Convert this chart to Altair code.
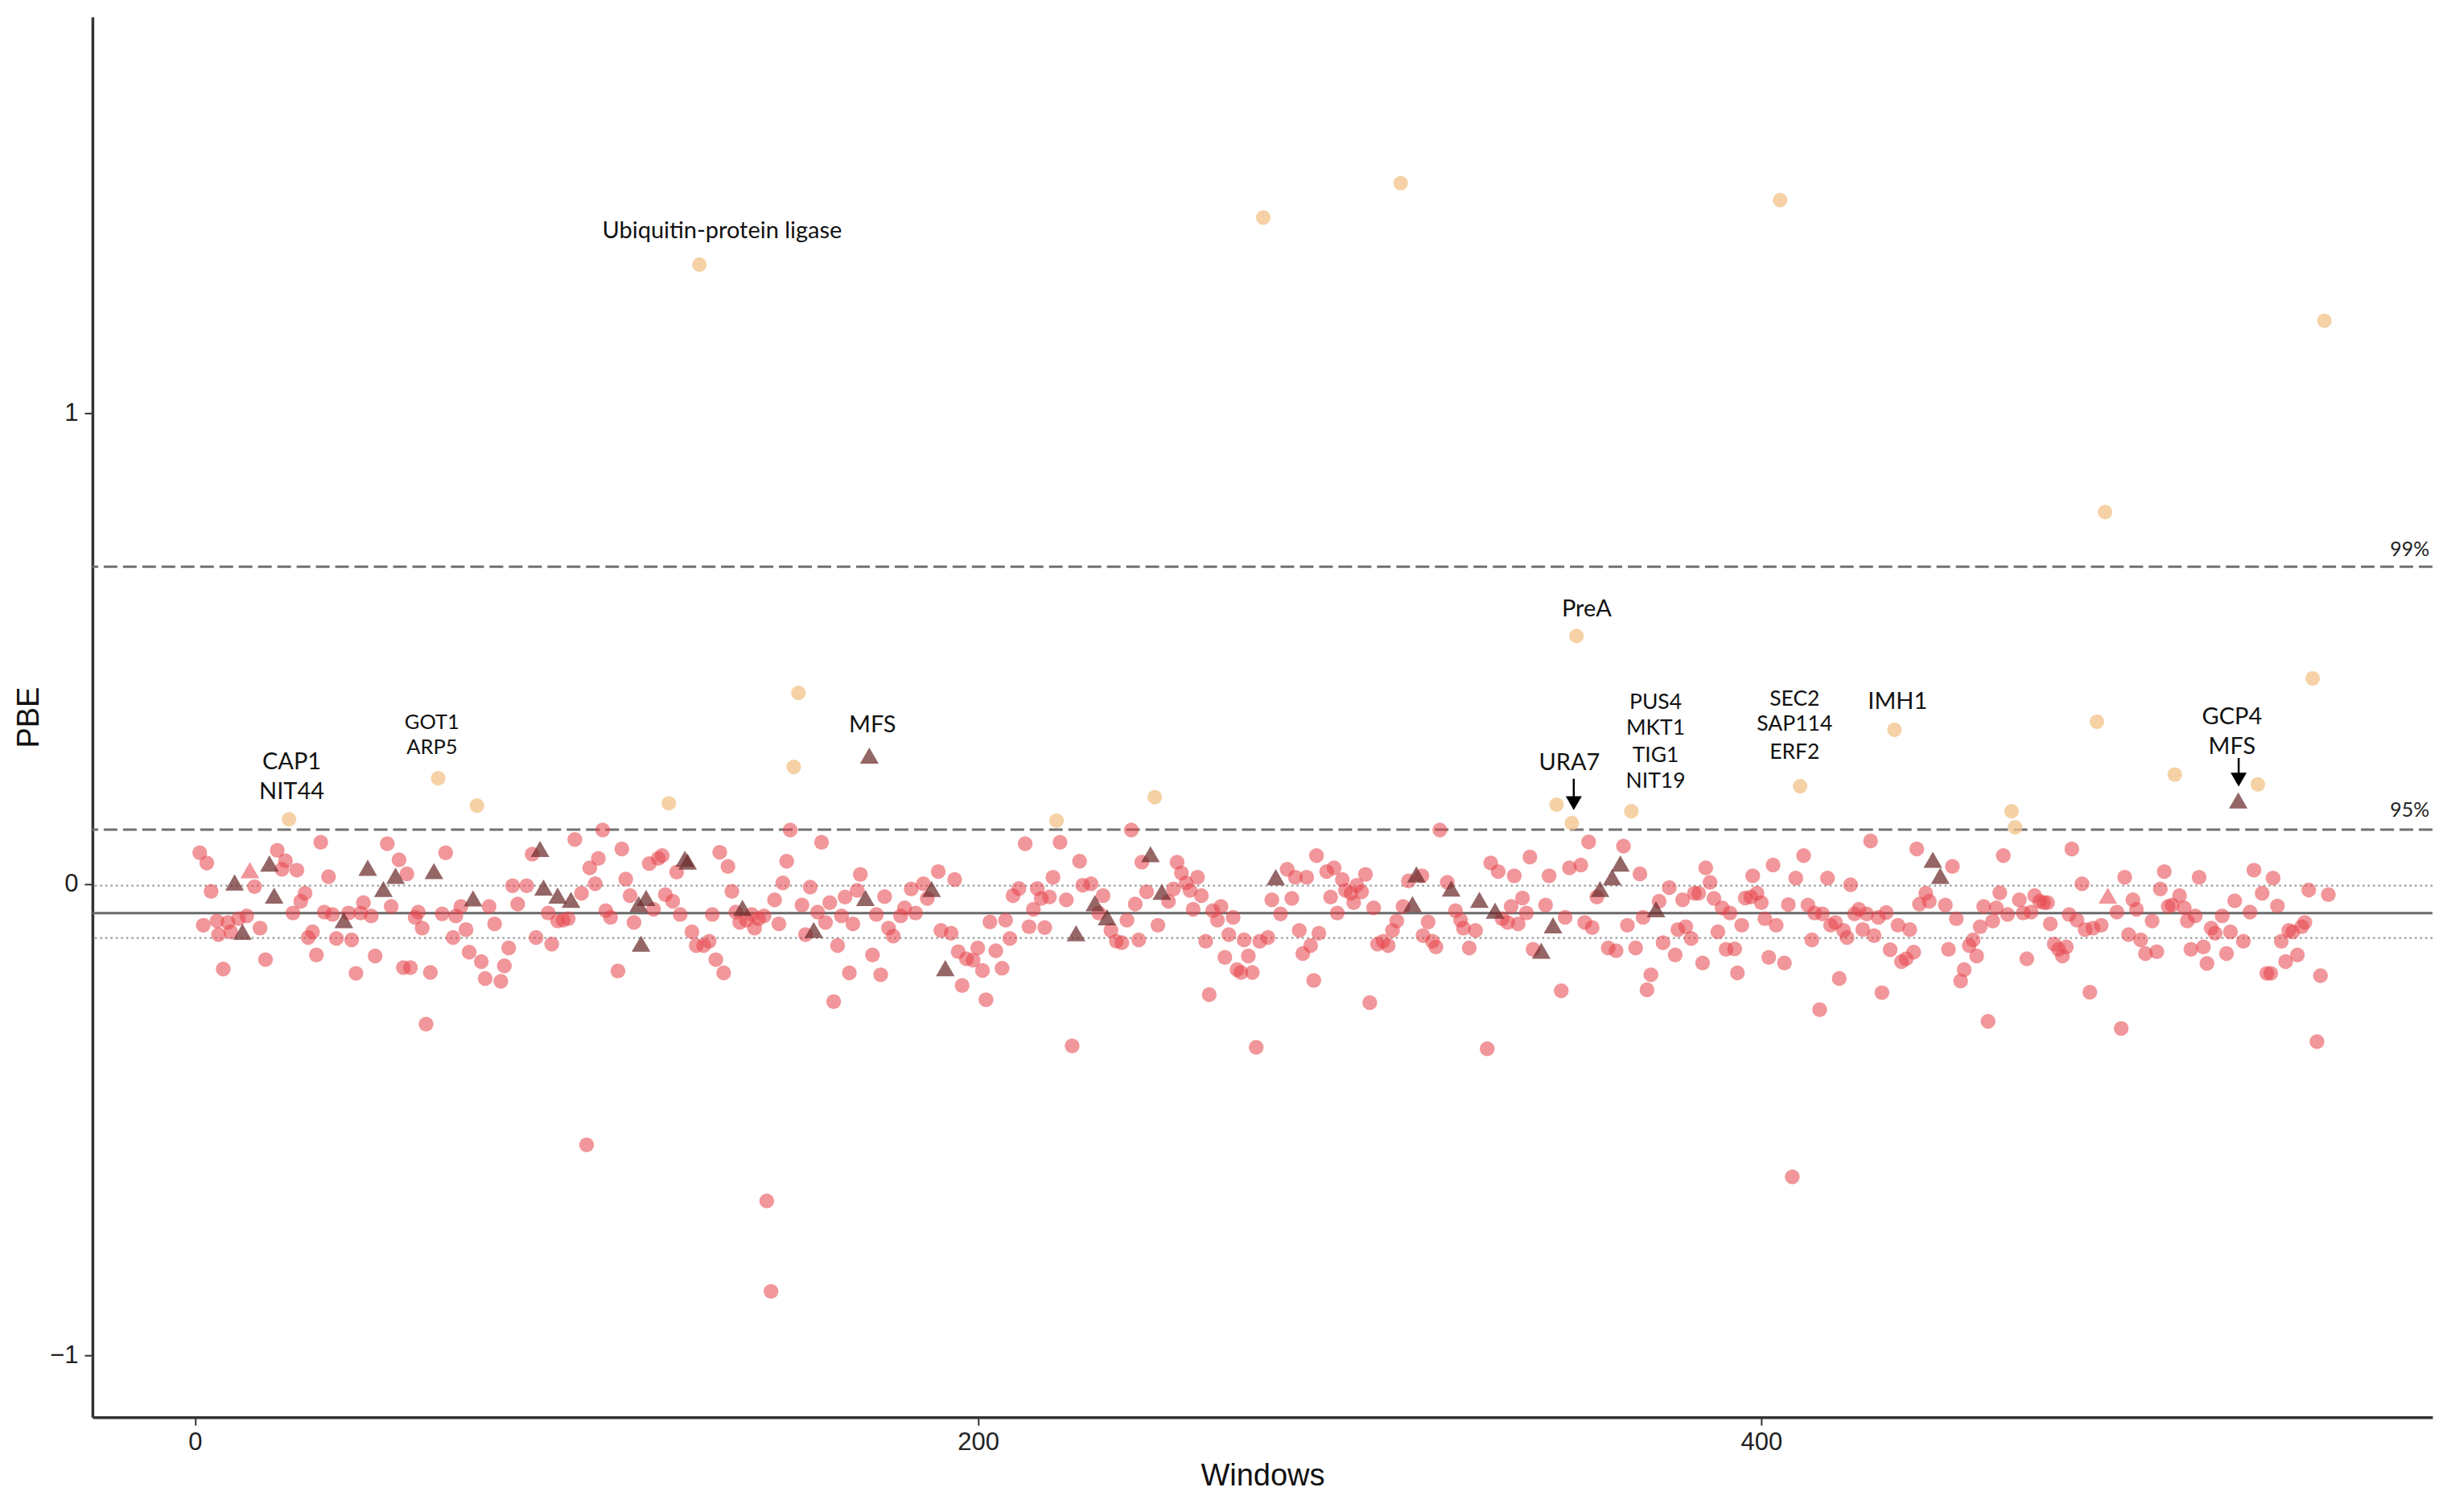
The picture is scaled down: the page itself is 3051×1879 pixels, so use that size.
import altair as alt
import pandas as pd

# ---------------- data ----------------
red_w = [1.2, 3.0, 4.1, 2.1, 5.6, 6.0, 7.2, 8.4, 9.1, 11.1, 13.2, 15.2, 16.6, 18.0, 21.0, 23.1, 22.2, 26.0, 25.0, 27.0,
         28.1, 28.9, 30.0, 31.0, 32.1, 33.0, 34.1, 35.1, 36.1, 39.2, 40.0, 41.1, 42.3, 43.0, 45.0, 46.0, 49.1, 50.1, 52.1, 53.2,
         54.1, 55.0, 56.2, 57.0, 58.0, 59.0, 60.1, 63.1, 64.0, 65.9, 66.6, 67.9, 69.2, 70.0, 73.1, 74.1, 75.1, 76.5, 78.1, 79.0,
         80.1, 81.1, 82.4, 84.7, 86.1, 87.1, 90.2, 91.1, 92.6,
         94.0, 95.3, 97.0, 98.7, 100.8, 102.2, 103.0, 104.1, 104.9, 106.1, 108.0, 109.0, 110.0, 111.1, 112.1, 116.0, 117.1, 118.3,
         119.3, 120.1, 122.0, 123.0, 123.9, 126.9, 128.0, 129.9, 131.3, 132.1, 133.0, 134.0, 135.0, 136.1, 137.1, 138.1, 139.1,
         140.8, 142.2, 142.9, 143.9, 145.3, 148.0, 149.1, 150.1, 151.1, 152.0, 155.0, 155.9, 157.1, 159.0, 160.0, 161.0, 162.1,
         163.1, 164.1, 165.1, 166.0, 167.1, 168.0, 169.1, 169.9, 173.0, 174.0, 175.1, 176.1, 177.1, 178.3, 180.2, 181.2, 182.9,
         184.0, 186.0, 187.0, 189.8, 190.5, 100.0, 146.0, 147.1,
         193.1, 194.0, 194.9, 195.9, 197.0, 198.7, 199.9, 201.1, 202.0, 203.0, 204.5, 206.1, 207.0, 208.1, 208.9, 210.4, 212.0,
         213.0, 214.1, 215.1, 216.1, 217.0, 218.2, 219.1, 220.9, 222.5, 224.0, 225.9, 226.7, 228.8, 230.8, 231.9, 233.9, 235.3,
         236.7, 238.0, 239.1, 240.1, 241.0, 241.8, 243.0, 245.9, 248.6, 249.9, 250.8, 251.9, 253.1, 254.1, 254.9, 256.0, 257.0,
         258.1, 259.0, 259.9, 261.1, 262.0, 263.0, 264.0, 265.1, 266.1, 267.1, 267.9, 269.0, 270.0, 271.0, 271.9, 274.0, 275.0,
         277.2, 278.9, 280.1, 281.0, 282.0, 282.9, 283.9, 284.9, 285.7, 286.4, 287.0,
         289.0, 290.0, 290.9, 291.7, 293.0, 293.8, 295.2, 295.9, 296.7, 297.9, 298.9, 300.0, 301.0, 302.0, 303.4, 304.7, 305.8,
         306.9, 308.5, 309.9, 313.3, 313.6, 314.9, 316.0, 316.9, 317.9, 319.8, 321.9, 323.2, 323.9, 325.4, 327.0, 330.0, 330.9,
         332.8, 333.8, 335.2, 336.1, 336.9, 337.9, 339.0, 340.0, 340.9, 341.7, 344.9, 345.8, 348.9, 349.9, 351.0, 353.9, 354.9,
         355.9, 356.8, 358.0, 360.9, 362.9, 364.8, 365.8, 367.9, 369.0, 369.8, 370.8, 371.8, 373.9, 374.9, 376.5, 378.0, 378.7,
         379.9, 380.7, 382.1, 382.9,
         384.0, 385.0, 385.8, 386.9, 387.9, 388.9, 390.0, 391.0, 392.0, 393.2, 393.9, 395.0, 395.9, 397.8, 397.3, 398.9, 400.0,
         400.9, 401.9, 403.0, 403.8, 405.9, 406.9, 408.8, 410.8, 411.9, 412.9, 413.6, 414.9, 415.6, 416.9, 417.7, 418.9, 419.9,
         421.0, 421.9, 422.8, 423.8, 424.9, 425.9, 426.9, 427.9, 428.8, 429.9, 430.8, 431.9, 432.9, 434.9, 435.8, 437.0, 437.9,
         438.9, 439.7, 440.4, 442.0, 442.9, 447.0, 447.8, 448.8, 449.8, 450.9, 451.8, 453.1, 454.1, 455.0, 455.9, 456.8, 457.9,
         459.1, 460.0, 460.9, 461.8, 462.9, 465.9, 466.9, 467.8, 468.9, 469.8, 471.1, 472.1, 473.1, 473.8, 474.8, 475.9, 476.9,
         477.9, 478.6, 479.3, 407.9,
         481.9, 480.6, 482.7, 483.9, 484.7, 486.8, 490.8, 491.9, 492.8, 493.8, 494.9, 495.8, 496.9, 498.1, 499.8, 501.0, 501.9,
         502.9, 503.9, 504.9, 506.8, 508.0, 508.8, 509.7, 510.8, 511.8, 512.9, 513.8, 514.9, 515.9, 517.7, 518.8, 519.8, 520.9,
         523.1, 524.8, 525.8, 527.9, 529.1, 530.1, 530.7, 531.8, 532.8, 533.9, 534.7, 535.7, 536.9, 538.0, 538.8, 539.8, 541.9,
         542.8, 544.8]
red_v = [0.067, 0.045, -0.015, -0.087, -0.078, -0.107, -0.18, -0.081, -0.101, -0.073, -0.067, -0.005, -0.093, -0.16, 0.072,
         0.05, 0.032, 0.03, -0.061, -0.036, -0.019, -0.113, -0.101, -0.15, 0.089, -0.059, 0.016, -0.064, -0.115, -0.061, -0.118,
         -0.189, -0.061, -0.039, -0.067, -0.152, 0.086, -0.047, 0.052, -0.177, 0.022, -0.177, -0.07, -0.059, -0.093, -0.297,
         -0.187, -0.063, 0.067, -0.113, -0.067, -0.047, -0.096, -0.144, -0.164, -0.2, -0.047, -0.084, -0.206, -0.173, -0.135,
         -0.003, -0.042, -0.003, 0.064, -0.113, -0.061, -0.127, -0.078,
         -0.076, -0.073, 0.095, -0.019, 0.035, 0.001, 0.055, 0.115, -0.056, -0.07, -0.184, 0.075, 0.011, -0.024, -0.081, 0.044,
         -0.053, 0.055, 0.061, -0.022, -0.036, 0.026, -0.064, -0.101, -0.13, -0.13, -0.121, -0.064, -0.16, 0.068, -0.188, 0.038,
         -0.015, -0.059, -0.081, -0.076, -0.064, -0.093, -0.073, -0.067, -0.033, -0.084, 0.003, 0.049, 0.115, -0.044, -0.107,
         -0.006, -0.059, 0.089, -0.081, -0.039, -0.249, -0.13, -0.067, -0.027, -0.188, -0.084, -0.013, 0.021, -0.15, -0.064,
         -0.192, -0.026, -0.093, -0.11, -0.067, -0.05, -0.01, -0.061, 0.001, -0.03, 0.027, -0.098, -0.553, -0.672, -0.864,
         -0.104, 0.01, -0.143, -0.215, -0.158, -0.161, -0.135, -0.183, -0.245, -0.08, -0.141, -0.178, -0.076, -0.115, -0.024,
         -0.009, 0.086, -0.09, -0.053, -0.009, -0.03, -0.092, -0.027, 0.015, 0.089, -0.033, -0.343, 0.049, -0.002, 0.001, -0.061,
         -0.024, -0.098, -0.121, -0.124, -0.076, 0.115, -0.042, -0.118, 0.047, -0.016, -0.087, -0.036, -0.01, 0.047, 0.024,
         0.003, -0.013, -0.053, 0.015, -0.024, -0.121, -0.234, -0.056, -0.076, -0.047, -0.155, -0.107, -0.07, -0.181, -0.187,
         -0.118, -0.152, -0.187, -0.346, -0.121, -0.113, -0.033, -0.063, 0.032, -0.03, 0.015, -0.098, -0.147, 0.015, -0.13,
         -0.204, 0.061, -0.104,
         0.027, -0.027, 0.035, -0.061, 0.01, -0.013, -0.019, -0.039, -0.002, -0.016, 0.021, -0.251, -0.05, -0.127, -0.121, -0.13,
         -0.098, -0.078, -0.047, 0.007, 0.018, -0.109, -0.08, -0.121, -0.133, 0.115, 0.004, -0.056, -0.076, -0.093, -0.135,
         -0.098, -0.349, 0.045, 0.027, -0.073, -0.081, -0.047, 0.018, -0.084, -0.029, -0.061, 0.058, -0.138, -0.044, 0.018,
         -0.226, -0.07, 0.035, 0.041, -0.081, 0.09, -0.092, -0.027, -0.135, -0.141, 0.081, -0.087, -0.135, 0.022, -0.07, -0.224,
         -0.192, -0.036, -0.124, -0.007, -0.15, -0.096, -0.033, -0.09, -0.115, -0.019,
         -0.019, -0.167, 0.035, 0.004, -0.03, -0.101, -0.05, -0.138, -0.061, -0.137, -0.188, -0.087, -0.029, 0.018, -0.027,
         -0.019, -0.039, -0.073, -0.155, 0.041, -0.087, -0.167, -0.043, 0.013, 0.061, -0.044, -0.118, -0.061, -0.266, -0.063,
         0.013, -0.087, -0.081, -0.2, -0.098, -0.113, -0.001, -0.063, -0.053, -0.096, -0.063, 0.092, -0.109, -0.07, -0.23,
         -0.06, -0.139, -0.087, -0.164, -0.158, -0.096, -0.144, 0.075, -0.042, -0.019, -0.036, -0.044, -0.138, 0.038, -0.073,
         -0.205, -0.181, -0.13, -0.118, -0.152, -0.09, -0.047, -0.291, -0.078, -0.05, -0.018, 0.061, -0.064, -0.033, -0.061,
         -0.158, -0.059, -0.024, -0.036, -0.039, -0.039, -0.084, -0.127, -0.138, -0.152, -0.133, -0.064, 0.075, -0.621,
         0.001, -0.076, -0.096, -0.229, -0.093, -0.087, -0.059, -0.306, 0.015, -0.107, -0.033, -0.053, -0.118, -0.147, -0.078,
         -0.143, -0.01, 0.027, -0.047, -0.044, -0.024, -0.05, -0.078, -0.138, -0.067, 0.015, -0.133, -0.168, -0.093, -0.104,
         -0.067, -0.147, -0.101, -0.035, -0.121, -0.059, 0.03, -0.019, -0.189, -0.189, 0.013, -0.046, -0.121, -0.164, -0.098,
         -0.101, -0.15, -0.09, -0.081, -0.012, -0.334, -0.194, -0.022]

tri_w = [10.1, 12.1, 19.0, 20.2, 38.0, 44.1, 48.1, 51.2, 61.0, 71.0, 88.1, 89.0, 92.6,
         96.0, 113.3, 113.9, 115.2, 125.1, 125.8, 139.8, 158.0, 171.2, 188.1, 191.6, 172.2,
         225.0, 229.8, 232.9, 244.0, 246.9, 276.0,
         310.9, 311.9, 320.8, 328.0, 332.0, 343.8, 346.8, 358.8, 361.9, 364.0, 373.1,
         443.8, 445.7, 521.8]
tri_v = [0.004, -0.101, 0.044, -0.024, -0.076, 0.035, -0.01, 0.018, 0.028, -0.03, 0.075, -0.007, -0.024,
         -0.033, -0.042, -0.126, -0.029, 0.054, 0.048, -0.05, -0.097, -0.029, -0.01, -0.178, 0.273,
         -0.104, -0.04, -0.07, 0.064, -0.016, 0.015,
         -0.042, 0.021, -0.009, -0.033, -0.056, -0.141, -0.087, -0.01, 0.015, 0.044, -0.053,
         0.052, 0.018, 0.178]

pink_tri_w = [14.0, 488.5]
pink_tri_v = [0.030, -0.024]

orange_w = [24.0, 62.1, 72.0, 121.0, 128.8, 152.9, 154.1, 220.0, 245.1, 272.8, 307.9, 347.7, 351.6, 352.8, 366.8,
            404.8, 409.9, 434.0, 463.9, 464.8, 485.7, 487.8, 505.6, 526.8, 540.8, 543.8]
orange_v = [0.138, 0.225, 0.167, 0.172, 1.315, 0.249, 0.406, 0.135, 0.185, 1.415, 1.488, 0.169, 0.130, 0.527, 0.155,
            1.452, 0.208, 0.328, 0.155, 0.121, 0.345, 0.79, 0.233, 0.212, 0.437, 1.196]

# reference lines
dash_y = [0.674, 0.116]          # 99% and 95% thresholds
dot_y = [-0.003, -0.114]         # band around the mean
mean_y = [-0.061]

# annotations
lab_text = ["Ubiquitin-protein ligase", "CAP1", "NIT44", "GOT1", "ARP5", "MFS", "PreA", "URA7",
            "PUS4", "MKT1", "TIG1", "NIT19", "SEC2", "SAP114", "ERF2", "IMH1", "GCP4", "MFS"]
lab_x = [134.6, 24.7, 24.7, 60.5, 60.5, 173.0, 355.4, 351.0,
         373.0, 373.0, 373.0, 373.0, 408.5, 408.5, 408.5, 434.8, 520.2, 520.2]
lab_y = [1.387, 0.259, 0.196, 0.343, 0.290, 0.338, 0.584, 0.258,
         0.386, 0.331, 0.273, 0.218, 0.392, 0.340, 0.280, 0.387, 0.355, 0.292]
lab_size = [29, 29, 29, 25.5, 25.5, 29, 29, 29, 26.5, 26.5, 26.5, 26.5, 26.5, 26.5, 26.5, 29, 29, 29]

pct_text = ["99%", "95%"]
pct_x = [565.6, 565.6]
pct_y = [0.710, 0.157]

arrow_x = [352.1, 521.9]
arrow_y1 = [0.224, 0.268]
arrow_y2 = [0.172, 0.222]

X_DOMAIN = [-26.2, 571.4]
Y_DOMAIN = [-1.131, 1.841]

# ---------------- chart ----------------
xs = alt.Scale(domain=X_DOMAIN, nice=False, zero=False)
ys = alt.Scale(domain=Y_DOMAIN, nice=False, zero=False)

LABEL_FONT = "Liberation Sans"
ANN_FONT = "Lato"

x_axis = alt.Axis(values=[0, 200, 400], title="Windows", grid=False,
                  domainColor="#333333", domainWidth=3.5, tickColor="#333333", tickWidth=2, tickSize=10,
                  labelFont=LABEL_FONT, labelFontSize=31, labelColor="#222222", labelPadding=6,
                  titleFont=LABEL_FONT, titleFontSize=38, titleFontWeight="normal", titleColor="#111111",
                  titlePadding=8)
y_axis = alt.Axis(values=[-1, 0, 1], title="PBE", grid=False,
                  domainColor="#333333", domainWidth=3.5, tickColor="#333333", tickWidth=2, tickSize=10,
                  labelFont=LABEL_FONT, labelFontSize=31, labelColor="#222222", labelPadding=8,
                  titleFont=LABEL_FONT, titleFontSize=38, titleFontWeight="normal", titleColor="#111111",
                  titlePadding=6)


def X(field):
    return alt.X(field, type="quantitative", scale=xs, axis=x_axis)


def Y(field):
    return alt.Y(field, type="quantitative", scale=ys, axis=y_axis)


red_df = pd.DataFrame({"w": red_w, "v": red_v})
tri_df = pd.DataFrame({"w": tri_w, "v": tri_v})
pink_df = pd.DataFrame({"w": pink_tri_w, "v": pink_tri_v})
orange_df = pd.DataFrame({"w": orange_w, "v": orange_v})

dash_layer = alt.Chart(pd.DataFrame({"v": dash_y})).mark_rule(
    color="#707070", strokeWidth=3, strokeDash=[17, 7]
).encode(y=Y("v"))

dot_layer = alt.Chart(pd.DataFrame({"v": dot_y})).mark_rule(
    color="#9a9a9a", strokeWidth=2.2, strokeDash=[2.5, 4]
).encode(y=Y("v"))

mean_layer = alt.Chart(pd.DataFrame({"v": mean_y})).mark_rule(
    color="#6a6a6a", strokeWidth=3
).encode(y=Y("v"))


def pts(df, shape, color, size, opacity):
    return alt.Chart(df).mark_point(shape=shape, filled=True, color=color, size=size,
                                    opacity=opacity, strokeWidth=0).encode(
        x=X("w"), y=Y("v"),
    )


red_layer = pts(red_df, "circle", "#E7474D", 340, 0.57)
pink_layer = pts(pink_df, "triangle-up", "#E7474D", 540, 0.57)
tri_layer = pts(tri_df, "triangle-up", "#6B2B2B", 540, 0.72)
orange_layer = pts(orange_df, "circle", "#F2C48C", 330, 0.78)

arrow_df = pd.DataFrame({"w": arrow_x, "v": arrow_y1, "v2": arrow_y2})
arrow_shaft = alt.Chart(arrow_df).mark_rule(color="black", strokeWidth=2.5).encode(
    x=X("w"), y=Y("v"), y2="v2:Q",
)
arrow_head = alt.Chart(arrow_df).mark_point(shape="triangle-down", filled=True, color="black",
                                            size=400, opacity=1, strokeWidth=0).encode(
    x=X("w"), y=Y("v2"),
)

lab_df = pd.DataFrame({"w": lab_x, "v": lab_y, "t": lab_text, "fs": lab_size})
labels = alt.Chart(lab_df).mark_text(font=ANN_FONT, color="#111111", align="center",
                                     baseline="middle").encode(
    x=X("w"), y=Y("v"),
    text="t:N",
    size=alt.Size("fs:Q", scale=None, legend=None),
)

pct_df = pd.DataFrame({"w": pct_x, "v": pct_y, "t": pct_text})
pct_labels = alt.Chart(pct_df).mark_text(font=ANN_FONT, fontSize=25, color="#222222",
                                         align="center", baseline="middle").encode(
    x=X("w"), y=Y("v"), text="t:N",
)

chart = alt.layer(
    dash_layer, dot_layer, mean_layer,
    red_layer, pink_layer, tri_layer, orange_layer,
    arrow_shaft, arrow_head, labels, pct_labels,
).properties(
    width=2911, height=1742,
    autosize=alt.AutoSizeParams(type="none"),
    padding={"left": 107, "top": 12, "right": 20, "bottom": 100},
    background="white",
).configure_view(stroke=None)

chart.save("out.html", embed_options={"renderer": "svg", "actions": False})
